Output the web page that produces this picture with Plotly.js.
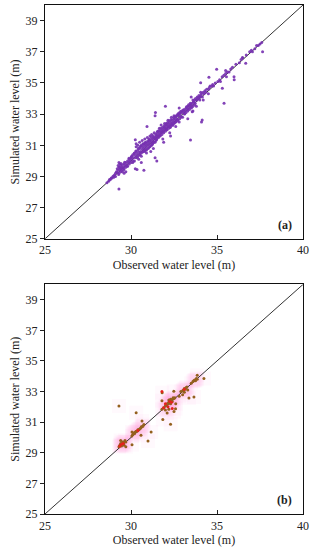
<!DOCTYPE html>
<html>
<head>
<meta charset="utf-8">
<script src="https://cdn.plot.ly/plotly-3.0.1.min.js"></script>
<style>html,body{margin:0;padding:0;background:#fff;}#chart{width:310px;height:550px;}</style>
</head>
<body>
<div id="chart"></div>
<script>
// Panel (a): observed vs simulated water level (m)
const obsA = [28.6,28.7,28.75,28.8,28.85,28.9,28.95,29.0,29.0,
29.05,29.1,29.1,29.15,29.2,29.2,29.25,29.25,29.3,29.3,29.3,29.3,29.35,29.35,29.4,29.4,29.4,29.45,29.45,29.5,29.5,29.5,
29.55,29.6,29.6,29.65,29.7,29.7,29.75,29.8,29.8,29.85,29.9,29.9,29.95,30.0,30.0,29.6,29.7,
30.05,30.05,30.1,30.1,30.15,30.2,30.2,30.25,30.25,30.3,30.3,30.3,30.35,30.35,30.4,30.4,30.4,30.45,30.45,30.5,30.5,30.5,30.25,30.3,
30.55,30.55,30.6,30.6,30.6,30.65,30.65,30.7,30.7,30.7,30.75,30.75,30.8,30.8,30.8,30.85,30.85,30.9,30.9,30.9,30.95,30.95,31.0,31.0,30.93,30.6,
31.05,31.05,31.1,31.1,31.1,31.15,31.15,31.2,31.2,31.2,31.25,31.25,31.3,31.3,31.3,31.35,31.35,31.4,31.4,31.4,31.45,31.45,31.5,31.5,31.5,31.42,31.4,
31.55,31.55,31.6,31.6,31.65,31.65,31.7,31.7,31.75,31.75,31.8,31.8,31.85,31.85,31.9,31.9,31.95,31.95,32.0,32.0,32.0,31.9,
32.05,32.05,32.1,32.1,32.15,32.15,32.2,32.2,32.25,32.25,32.3,32.3,32.35,32.35,32.4,32.4,32.45,32.5,32.5,32.3,32.5,
32.55,32.6,32.6,32.65,32.7,32.7,32.75,32.8,32.8,32.85,32.9,32.9,32.95,33.0,33.0,32.8,32.6,
33.05,33.1,33.1,33.15,33.2,33.2,33.25,33.3,33.3,33.35,33.4,33.4,33.45,33.5,33.5,33.46,33.3,33.56,
33.55,33.6,33.6,33.65,33.7,33.7,33.75,33.8,33.85,33.9,33.95,34.0,34.0,33.6,33.8,33.5,
34.05,34.1,34.15,34.2,34.25,34.3,34.35,34.4,34.5,34.55,34.6,34.7,34.75,34.8,34.9,34.14,34.1,34.05,34.53,34.98,34.05,34.2,34.5,
35.05,35.15,35.2,35.3,35.4,35.5,35.55,35.6,35.7,35.8,35.9,35.41,35.31,35.99,36.0,35.5,
36.1,36.3,36.4,36.5,36.7,36.67,36.48,36.9,37.0,37.06,37.2,37.3,37.4,37.5,37.6,37.65,
29.33,29.28,29.42,29.57,29.63,29.78,29.88,30.02,30.13,30.18,30.28,30.37,30.43,30.52,30.58,30.67,30.73,30.78,30.83,30.88,
30.97,31.02,31.07,31.13,31.18,31.23,31.28,31.33,31.38,31.43,31.48,31.53,31.58,31.63,31.68,31.73,31.78,31.83,31.88,31.93,
31.98,32.03,32.08,32.13,32.18,32.23,32.28,32.33,32.38,32.43,32.48,32.53,32.58,32.63,32.68,32.73,32.78,32.83,32.88,32.93,
33.03,33.13,33.23,33.33,33.43,33.53,33.63,33.73,33.83,33.93];
const simA = [28.6,28.7,28.8,28.8,28.9,28.9,29.0,29.05,28.95,
29.1,29.2,29.0,29.3,29.25,29.5,29.4,29.7,29.6,29.9,29.2,28.2,29.8,29.45,29.5,29.3,29.7,29.6,29.4,29.55,29.75,29.3,
29.6,29.5,29.8,29.7,29.9,29.6,29.75,30.0,29.65,29.9,30.1,29.8,30.0,30.2,29.9,29.2,29.3,
30.3,30.1,30.4,29.9,30.2,30.5,30.0,30.35,29.5,30.6,30.2,30.9,30.45,29.45,30.7,30.3,31.0,30.55,30.1,30.8,30.4,31.2,31.35,31.1,
30.6,30.9,31.0,30.5,30.3,30.75,31.3,30.9,30.6,31.1,30.8,29.4,31.0,30.6,31.4,30.9,31.2,31.1,30.7,30.5,31.0,31.5,31.2,30.8,32.2,29.9,
31.1,31.4,31.3,30.9,31.6,31.2,30.6,31.4,31.0,31.7,31.3,31.1,31.5,31.2,30.8,31.4,31.8,31.5,31.2,30.2,31.6,31.3,31.7,31.4,30.0,33.1,32.9,
31.6,31.9,31.8,31.5,31.7,32.1,31.9,31.6,31.8,32.3,32.0,31.7,31.9,31.4,32.1,31.8,32.0,32.4,32.2,31.9,33.5,31.2,
32.1,32.4,32.3,32.0,32.2,32.6,32.4,32.1,32.3,31.8,32.5,32.2,32.4,32.8,32.6,32.3,32.5,32.7,32.4,31.6,32.9,
32.6,32.8,32.5,32.7,32.9,32.6,33.0,32.9,32.5,33.0,33.1,32.8,33.2,33.1,32.8,33.4,32.2,
33.2,33.3,33.0,33.2,33.4,33.1,33.3,33.5,33.2,33.6,33.5,33.3,33.7,33.6,33.4,31.34,32.7,33.16,
33.7,33.9,33.5,33.8,33.9,33.6,34.0,33.9,34.1,34.0,34.2,33.9,34.1,33.2,33.5,34.1,
34.2,34.3,34.1,34.4,34.3,34.5,34.4,34.6,34.6,34.7,34.8,34.8,34.9,34.8,35.0,32.62,32.5,35.02,35.36,35.88,34.4,33.9,34.3,
35.1,35.2,35.1,35.4,35.5,35.6,35.4,35.7,35.7,35.9,36.0,33.69,34.66,35.4,35.2,35.8,
36.2,36.3,36.5,36.6,36.8,36.26,36.63,37.0,37.1,37.0,37.2,37.4,37.4,37.5,37.6,37.0,
29.57,29.12,29.83,29.41,29.92,29.68,30.17,30.26,29.98,30.47,30.63,30.22,30.81,30.39,30.94,30.57,31.08,30.66,31.17,30.74,
31.27,30.86,31.34,30.97,31.52,31.06,31.61,31.19,31.48,31.72,31.37,31.86,31.56,31.95,31.64,32.07,31.83,32.16,31.92,32.26,
32.11,32.33,32.02,32.46,32.21,32.57,32.14,32.66,32.36,32.29,32.78,32.44,32.87,32.53,32.96,32.62,33.08,32.71,33.17,32.84,
33.27,33.02,33.48,33.36,33.57,33.44,33.78,33.69,33.91,34.06];

// Panel (b)
const obsB = [29.3,29.35,29.4,29.4,29.45,29.5,29.5,29.55,29.6,29.6,29.65,29.7,29.4,29.7,29.3,
30.05,30.1,30.15,30.2,30.25,30.3,30.35,30.4,30.45,30.5,30.55,30.6,30.65,30.7,30.75,30.3,30.64,30.06,30.58,31.17,30.99,30.06,
31.8,31.9,32.0,32.05,32.1,32.15,32.2,32.25,32.3,32.3,32.35,32.4,32.4,32.45,32.5,32.55,32.3,32.2,31.81,31.85,32.3,32.59,32.49,32.0,32.1,31.8,32.6,32.5,32.2,
32.9,33.0,33.05,33.1,33.15,33.2,33.25,33.0,33.1,33.3,33.37,32.8,
33.5,33.6,33.65,33.7,33.75,33.8,33.85,33.85,34.24,33.66];
const simB = [29.4,29.5,29.5,29.6,29.45,29.6,29.7,29.55,29.7,29.5,29.8,29.7,29.8,29.4,32.06,
30.1,30.2,30.3,30.25,30.35,30.4,30.4,30.5,30.5,30.55,30.6,30.7,30.7,30.75,30.85,31.62,31.08,30.36,30.14,30.36,29.77,29.53,
31.85,31.95,32.05,32.1,32.2,32.2,32.3,32.25,32.4,32.5,32.4,32.5,32.35,32.6,32.55,32.6,32.2,32.45,32.93,31.17,30.86,31.88,33.02,31.8,31.6,32.4,32.2,31.7,31.85,
33.0,33.05,33.1,33.2,33.15,33.25,33.3,32.8,32.95,33.1,32.58,32.7,
33.55,33.65,33.7,33.75,33.7,33.85,33.8,34.06,33.85,32.65];
const obsBred = [29.35,29.55,29.45,30.4,31.9,32.0,32.25,32.35,32.4,33.1,31.8,32.15];
const simBred = [29.45,29.6,29.55,30.45,31.95,32.2,32.35,32.3,31.9,33.15,33.0,32.0];

const lineX = [25, 40];
const lineY = [25, 40];
const ticksX = [25, 30, 35, 40];
const ticksY = [25, 27, 29, 31, 33, 35, 37, 39];
const panelLabels = ['(a)', '(b)'];
const xTitle = 'Observed water level (m)';
const yTitle = 'Simulated water level (m)';

const fnt = {family: '"Liberation Serif", "Times New Roman", serif', size: 12, color: '#222'};

const traces = [
  {x: lineX, y: lineY, xaxis: 'x', yaxis: 'y', mode: 'lines', line: {color: '#333', width: 1}, hoverinfo: 'skip'},
  {x: obsA, y: simA, xaxis: 'x', yaxis: 'y', mode: 'markers', type: 'scatter',
   marker: {color: '#7530B0', size: 3, opacity: 0.9}},
  {x: obsB, y: simB, xaxis: 'x2', yaxis: 'y2', mode: 'markers', type: 'scatter',
   marker: {color: 'rgba(255,130,215,0.05)', size: 14, symbol: 'square'}, hoverinfo: 'skip'},
  {x: lineX, y: lineY, xaxis: 'x2', yaxis: 'y2', mode: 'lines', line: {color: '#333', width: 1}, hoverinfo: 'skip'},
  {x: obsB, y: simB, xaxis: 'x2', yaxis: 'y2', mode: 'markers', type: 'scatter',
   marker: {color: '#94601E', size: 3}},
  {x: obsBred, y: simBred, xaxis: 'x2', yaxis: 'y2', mode: 'markers', type: 'scatter',
   marker: {color: '#E3221C', size: 3}}
];

function xa(anchor) {
  return {range: [25, 40], tickvals: ticksX, ticks: 'inside', ticklen: 4, tickcolor: '#222',
    showline: true, linecolor: '#111', linewidth: 1.2, mirror: true, showgrid: false, zeroline: false,
    anchor: anchor, tickfont: fnt, title: {text: xTitle, font: fnt, standoff: 4}, fixedrange: true};
}
function ya(anchor, domain) {
  return {range: [25, 40], tickvals: ticksY, ticks: 'outside', ticklen: 4, tickcolor: '#222',
    showline: true, linecolor: '#111', linewidth: 1.2, mirror: true, showgrid: false, zeroline: false,
    anchor: anchor, domain: domain, tickfont: fnt, title: {text: yTitle, font: fnt, standoff: 3}, fixedrange: true};
}

const layout = {
  width: 310, height: 550,
  margin: {l: 45, r: 7, t: 5, b: 36},
  paper_bgcolor: '#fff', plot_bgcolor: '#fff',
  showlegend: false,
  xaxis: xa('y'),
  yaxis: ya('x', [0.5406, 1]),
  xaxis2: xa('y2'),
  yaxis2: ya('x2', [0, 0.451]),
  annotations: [
    {text: '<b>' + panelLabels[0] + '</b>', xref: 'x', yref: 'y', x: 39.5, y: 25.9, xanchor: 'right', yanchor: 'middle', showarrow: false, font: fnt},
    {text: '<b>' + panelLabels[1] + '</b>', xref: 'x2', yref: 'y2', x: 39.5, y: 25.9, xanchor: 'right', yanchor: 'middle', showarrow: false, font: fnt}
  ]
};

Plotly.newPlot('chart', traces, layout, {displayModeBar: false, staticPlot: true});
</script>
</body>
</html>
